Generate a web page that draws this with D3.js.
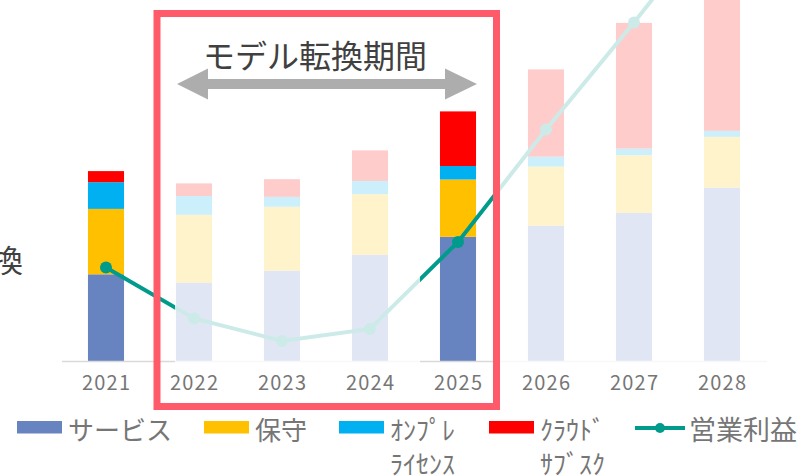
<!DOCTYPE html>
<html>
<head>
<meta charset="utf-8">
<script src="https://cdn.jsdelivr.net/npm/d3@7"></script>
<style>
  html, body { margin: 0; padding: 0; background: #fff; }
  svg { display: block; }
  text { font-family: "Noto Sans CJK JP", "Noto Sans", sans-serif; }
</style>
</head>
<body>
<svg id="chart"></svg>
<script>
const years = ["2021", "2022", "2023", "2024", "2025", "2026", "2027", "2028"]
const service = [28.9, 26.1, 30.1, 35.4, 41.4, 45.1, 49.4, 57.8]
const maintenance = [21.8, 22.6, 21.3, 20.2, 19.1, 19.7, 19.2, 16.9]
const onprem = [8.9, 6.3, 3.3, 4.4, 4.5, 3.3, 2.2, 2.0]
const cloud = [3.7, 4.2, 5.9, 10.2, 18.2, 29.1, 41.9, 48.0]
const profit = [31.2, 14.2, 6.7, 10.7, 39.7, 77.2, 112.8, 150.0]

const seriesNames = ["サービス", "保守", "ｵﾝﾌﾟﾚ ﾗｲｾﾝｽ", "ｸﾗｳﾄﾞ ｻﾌﾞｽｸ"]
const lineName = "営業利益"
const periodTitle = "モデル転換期間"

const width = 803, height = 476
const colors = ["#6783C0", "#FFC000", "#00B0F0", "#FF0000"]
const lineColor = "#009B8B"

const svg = d3.select("#chart").attr("width", width).attr("height", height)

const x = d3.scaleBand().domain(years).range([62, 766]).paddingInner(0.59).paddingOuter(0.295)
const y = d3.scaleLinear().domain([0, 120]).range([361, 1])

const table = years.map((yr, i) => ({
  year: yr, s0: service[i], s1: maintenance[i], s2: onprem[i], s3: cloud[i]
}))
const stacked = d3.stack().keys(["s0", "s1", "s2", "s3"])(table)

// cut-off axis title on the left
svg.append("text")
  .attr("x", 23).attr("y", 258)
  .attr("text-anchor", "end").attr("dominant-baseline", "central")
  .attr("font-size", 31).attr("fill", "#404040")
  .text("換")

// bars
svg.append("g").selectAll("g")
  .data(stacked)
  .join("g")
    .attr("fill", (d, i) => colors[i])
  .selectAll("rect")
  .data(d => d)
  .join("rect")
    .attr("x", d => x(d.data.year))
    .attr("y", d => y(d[1]))
    .attr("width", x.bandwidth())
    .attr("height", d => y(d[0]) - y(d[1]))

// axis line
svg.append("line")
  .attr("x1", 62).attr("x2", 767)
  .attr("y1", y(0) + 0.5).attr("y2", y(0) + 0.5)
  .attr("stroke", "#D9D9D9").attr("stroke-width", 1.5)

// profit line
const cx = d => x(d) + x.bandwidth() / 2
svg.append("path")
  .datum(profit)
  .attr("fill", "none")
  .attr("stroke", lineColor)
  .attr("stroke-width", 4)
  .attr("d", d3.line().x((d, i) => cx(years[i])).y(d => y(d)))

svg.append("g").selectAll("circle")
  .data(profit)
  .join("circle")
    .attr("cx", (d, i) => cx(years[i]))
    .attr("cy", d => y(d))
    .attr("r", 6)
    .attr("fill", lineColor)

// faded regions
svg.append("rect")
  .attr("x", 175).attr("y", 0).attr("width", 245).attr("height", 363)
  .attr("fill", "#fff").attr("opacity", 0.8)
svg.append("rect")
  .attr("x", 497).attr("y", 0).attr("width", width - 497).attr("height", 363)
  .attr("fill", "#fff").attr("opacity", 0.8)

// x tick labels
svg.append("g").selectAll("text")
  .data(years)
  .join("text")
    .attr("x", d => cx(d) + 0.6)
    .attr("y", 390)
    .attr("text-anchor", "middle")
    .attr("font-family", "'Open Sans', sans-serif")
    .attr("font-size", 20)
    .attr("letter-spacing", 1.2)
    .attr("fill", "#767676")
    .text(d => d)

// highlight box
svg.append("rect")
  .attr("x", 157).attr("y", 13.5).attr("width", 339.5).attr("height", 393)
  .attr("fill", "none").attr("stroke", "#FF5A69").attr("stroke-width", 7)

// double arrow
const ay = 84
svg.append("path")
  .attr("d", `M177,${ay} L208,${ay - 15.5} L208,${ay - 5} L445,${ay - 5} L445,${ay - 15.5} L477,${ay}
              L445,${ay + 15.5} L445,${ay + 5} L208,${ay + 5} L208,${ay + 15.5} Z`)
  .attr("fill", "#ADADAD")

svg.append("text")
  .attr("x", 315).attr("y", 54)
  .attr("text-anchor", "middle").attr("dominant-baseline", "central")
  .attr("font-size", 32).attr("fill", "#404040")
  .text(periodTitle)

// legend
const legendX = [17, 204, 339, 489]
const legend = svg.append("g")
seriesNames.forEach((name, i) => {
  legend.append("rect")
    .attr("x", legendX[i]).attr("y", 421)
    .attr("width", 45).attr("height", 12.5)
    .attr("fill", colors[i])
  const lines = name.split(" ")
  lines.forEach((t, j) => {
    legend.append("text")
      .attr("x", legendX[i] + 51)
      .attr("y", j === 0 ? 428 : 462)
      .attr("dominant-baseline", "central")
      .attr("font-size", 26)
      .attr("fill", "#767676")
      .text(t)
  })
})
legend.append("line")
  .attr("x1", 635).attr("x2", 685).attr("y1", 428).attr("y2", 428)
  .attr("stroke", lineColor).attr("stroke-width", 4)
legend.append("circle")
  .attr("cx", 660).attr("cy", 428).attr("r", 5)
  .attr("fill", lineColor)
legend.append("text")
  .attr("x", 689).attr("y", 428)
  .attr("dominant-baseline", "central")
  .attr("font-size", 27)
  .attr("fill", "#767676")
  .text(lineName)
</script>
</body>
</html>
